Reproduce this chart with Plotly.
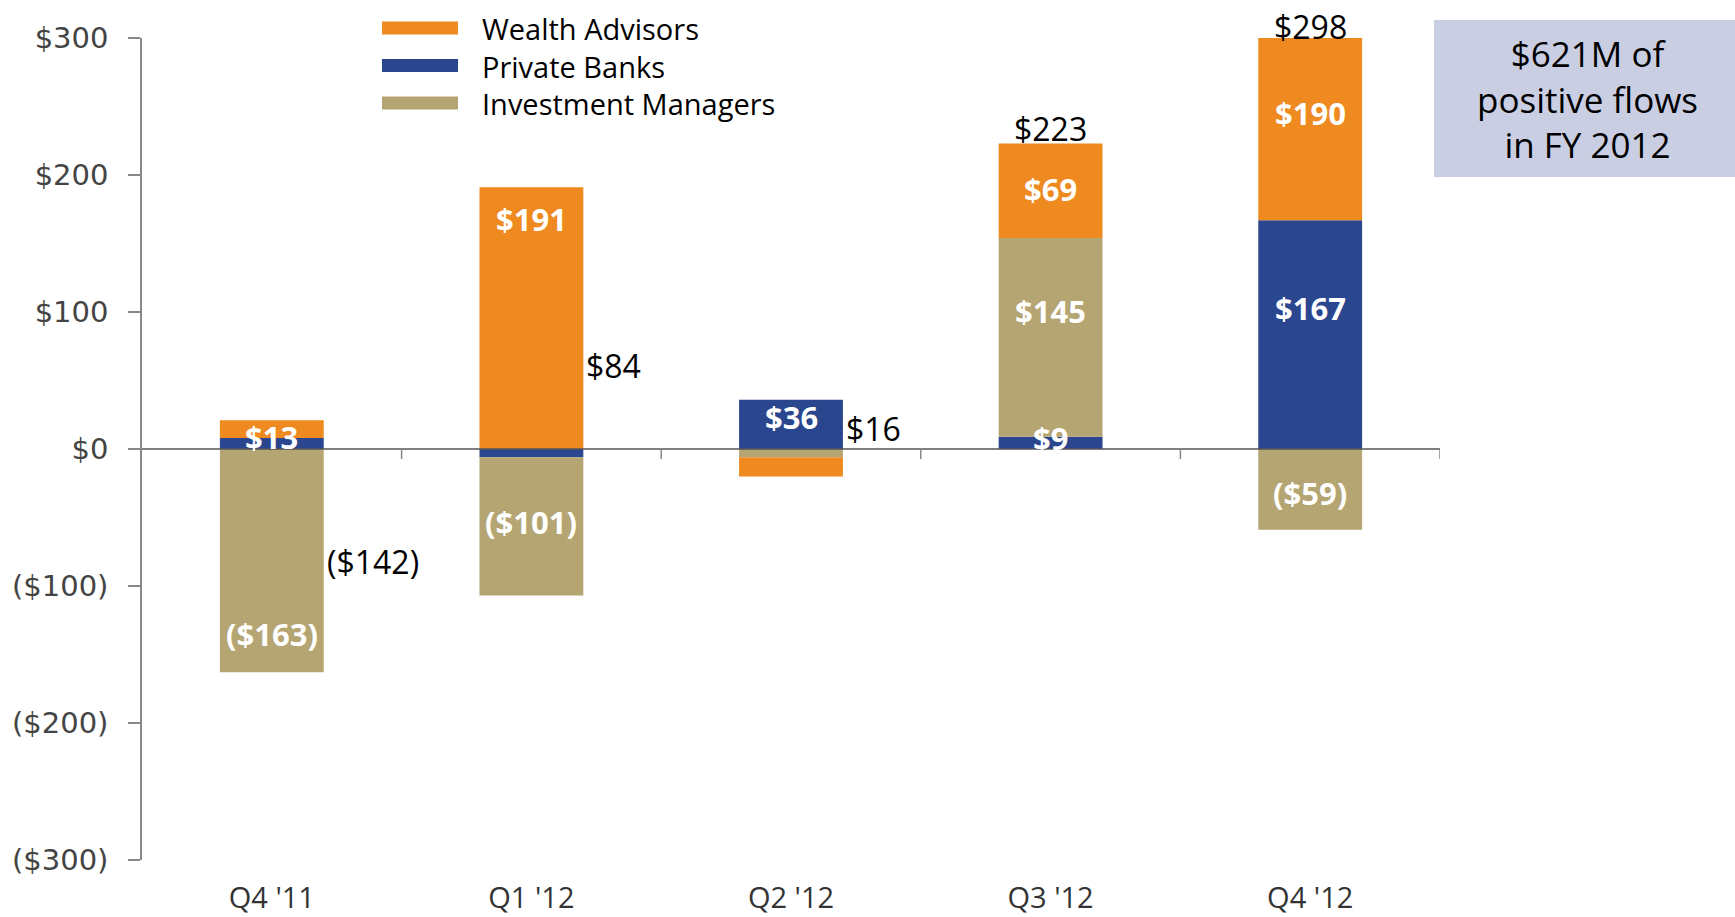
import plotly.graph_objects as go

# ---------------- data ----------------
quarters = ["Q4 '11", "Q1 '12", "Q2 '12", "Q3 '12", "Q4 '12"]
wealth_advisors = [13, 191, -14, 69, 190]
private_banks = [8, -6, 36, 9, 167]
investment_managers = [-163, -101, -6, 145, -59]
y_tick_vals = [-300, -200, -100, 0, 100, 200, 300]
y_tick_text = ["($300)", "($200)", "($100)", "$0", "$100", "$200", "$300"]
callout_lines = ["$621M of", "positive flows", "in FY 2012"]
legend_names = ["Wealth Advisors", "Private Banks", "Investment Managers"]

# which segment values get a white label, and where (value units) the label sits
inside_labels = [
    (0, "wa", 9), (0, "im", -135),
    (1, "wa", 168), (1, "im", -53),
    (2, "pb", 23),
    (3, "pb", 8), (3, "im", 101), (3, "wa", 190),
    (4, "pb", 103), (4, "wa", 245), (4, "im", -32),
]
# total labels: (y position, anchor mode)
total_label_pos = [(-82, "side"), (61, "side"), (15, "side"), (None, "top"), (None, "top")]

# ---------------- styling ----------------
C_WA = "#EE8A1F"
C_PB = "#2A468E"
C_IM = "#B5A572"
W, H = 1735, 917
L, T = 142, 38
R = W - 1440
B = H - 860
PW, PH = W - L - R, H - T - B


def px_x(px):
    return (px - L) / PW


def px_y(py):
    return (H - B - py) / PH


def fmt(v):
    return f"${v}" if v >= 0 else f"(${-v})"


series = {"wa": wealth_advisors, "pb": private_banks, "im": investment_managers}

fig = go.Figure()
# stacking order: Private Banks, Investment Managers, Wealth Advisors
for name, vals, col in [("Private Banks", private_banks, C_PB),
                        ("Investment Managers", investment_managers, C_IM),
                        ("Wealth Advisors", wealth_advisors, C_WA)]:
    fig.add_trace(go.Bar(x=quarters, y=vals, name=name, marker=dict(color=col, line=dict(width=0)),
                         width=0.4, showlegend=False, hoverinfo="x+y+name"))

annotations = []
for qi, key, ly in inside_labels:
    annotations.append(dict(x=quarters[qi], y=ly, xref="x", yref="y", text=fmt(series[key][qi]),
                            showarrow=False, font=dict(family="Open Sans", size=31, color="white", weight="bold"),
                            xanchor="center", yanchor="middle"))

totals = [wealth_advisors[i] + private_banks[i] + investment_managers[i] for i in range(len(quarters))]
for i, (ly, mode) in enumerate(total_label_pos):
    if mode == "side":
        annotations.append(dict(x=quarters[i], y=ly, xref="x", yref="y", text=fmt(totals[i]),
                                showarrow=False, xanchor="left", yanchor="middle", xshift=53,
                                font=dict(family="Open Sans", size=32, color="black")))
    else:
        annotations.append(dict(x=quarters[i], y=totals[i], xref="x", yref="y", text=fmt(totals[i]),
                                showarrow=False, xanchor="center", yanchor="bottom", yshift=-9,
                                font=dict(family="Open Sans", size=32, color="black")))

# callout box
shapes = [dict(type="rect", xref="paper", yref="paper", x0=px_x(1434), x1=px_x(1740),
               y0=px_y(177), y1=px_y(20), fillcolor="#C9CEE2", line=dict(width=0), layer="below")]
annotations.append(dict(x=px_x(1587), y=px_y(99), xref="paper", yref="paper",
                        text="<br>".join(callout_lines), align="center",
                        showarrow=False, xanchor="center", yanchor="middle",
                        font=dict(family="Open Sans", size=35, color="black")))

# manual legend (wide swatches)
legend_colors = [C_WA, C_PB, C_IM]
for k, col in enumerate(legend_colors):
    cy = 28 + 37.5 * k
    shapes.append(dict(type="rect", xref="paper", yref="paper", x0=px_x(382), x1=px_x(458),
                       y0=px_y(cy + 6.5), y1=px_y(cy - 6.5), fillcolor=col, line=dict(width=0)))
annotations.append(dict(x=px_x(480), y=px_y(65.5), xref="paper", yref="paper",
                        text="<br>".join(legend_names), align="left",
                        showarrow=False, xanchor="left", yanchor="middle",
                        font=dict(family="Open Sans", size=29, color="black")))

# zero line with category-boundary ticks
shapes.append(dict(type="line", xref="paper", yref="y", x0=0, x1=1, y0=0, y1=0,
                   line=dict(color="#555555", width=1.5), layer="above"))
for i in range(1, len(quarters) + 1):
    shapes.append(dict(type="line", xref="x", yref="y", x0=i - 0.5, x1=i - 0.5,
                       ysizemode="pixel", yanchor=0, y0=0, y1=-10,
                       line=dict(color="#888888", width=1.5), layer="above"))

fig.update_layout(
    width=W, height=H,
    margin=dict(l=L, r=R, t=T, b=B, autoexpand=False),
    plot_bgcolor="white", paper_bgcolor="white",
    barmode="relative",
    shapes=shapes, annotations=annotations,
    showlegend=False,
    xaxis=dict(range=[-0.5, 4.5], showline=False, ticks="", showgrid=False, zeroline=False,
               tickfont=dict(family="Open Sans", size=29, color="#333333"), ticklabelstandoff=18),
    yaxis=dict(range=[-300, 300], tickvals=y_tick_vals, ticktext=y_tick_text,
               showline=True, linecolor="#888888", linewidth=1.5,
               ticks="outside", ticklen=12, tickwidth=1.5, tickcolor="#888888",
               showgrid=False, zeroline=False, ticklabelstandoff=14,
               tickfont=dict(family="DejaVu Sans", size=29, color="#444444")),
)

fig.write_html("out.html", config={"displayModeBar": False},
               post_script="document.body.style.margin='0';document.body.style.overflow='hidden';")
